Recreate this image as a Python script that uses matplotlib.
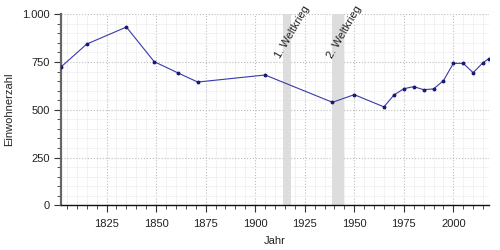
import matplotlib
matplotlib.use("Agg")
import matplotlib.pyplot as plt
from matplotlib.ticker import MultipleLocator, FuncFormatter

# ----- DATA -----
years = [1802, 1815, 1835, 1849, 1861, 1871, 1905, 1939, 1950, 1965, 1970,
         1975, 1980, 1985, 1990, 1995, 2000, 2005, 2010, 2015, 2018]
einwohner = [724, 844, 933, 752, 693, 645, 682, 539, 579, 515, 577,
             610, 621, 605, 609, 652, 743, 743, 694, 747, 768]

kriege = [(1914, 1918), (1939, 1945)]
krieg_labels = ["1. Weltkrieg", "2. Weltkrieg"]

plt.rcParams["font.family"] = ["Liberation Sans", "DejaVu Sans"]

fig = plt.figure(figsize=(5, 2.5), dpi=100)
ax = fig.add_axes([0.122, 0.179, 0.856, 0.764])

# Kriegszeiten schattieren
for (start, end), label in zip(kriege, krieg_labels):
    ax.axvspan(start, end, ymin=0, ymax=1, color="#dddddd", lw=0, zorder=1)
    ax.text((start + end) / 2 + 3, 905, label, rotation=60, ha="center",
            va="center", fontsize=8, color="#222222", zorder=3)

ax.plot(years, einwohner, color="#3a3aaa", lw=0.8, marker="o", ms=1.8,
        mfc="#1a1a70", mec="#1a1a70", zorder=4)

ax.set_xlim(1802, 2018)
ax.set_ylim(0, 1000)

ax.xaxis.set_major_locator(MultipleLocator(25))
ax.xaxis.set_minor_locator(MultipleLocator(5))
ax.yaxis.set_major_locator(MultipleLocator(250))
ax.yaxis.set_minor_locator(MultipleLocator(50))
ax.yaxis.set_major_formatter(FuncFormatter(lambda v, p: f"{int(v):,}".replace(",", ".")))

ax.grid(which="major", color="#bbbbbb", ls=":", lw=0.8, zorder=0)
ax.grid(which="minor", color="#f0f0f0", ls="-", lw=0.6, zorder=0)
ax.set_axisbelow(True)

for s in ["top", "right"]:
    ax.spines[s].set_visible(False)
ax.spines["left"].set_color("#666666")
ax.spines["left"].set_linewidth(1.6)
ax.spines["bottom"].set_color("#111111")
ax.spines["bottom"].set_linewidth(1.0)

ax.tick_params(which="major", length=5, width=0.8, color="#333333",
               labelsize=8, labelcolor="#222222")
ax.tick_params(axis="x", which="major", pad=5)
ax.tick_params(axis="y", which="major", pad=3)
ax.tick_params(which="minor", length=3, width=0.6, color="#333333")

ax.set_xlabel("Jahr", fontsize=8, color="#222222", labelpad=5)
ax.set_ylabel("Einwohnerzahl", fontsize=8, color="#222222", labelpad=6)

fig.savefig("out.png", dpi=100)
